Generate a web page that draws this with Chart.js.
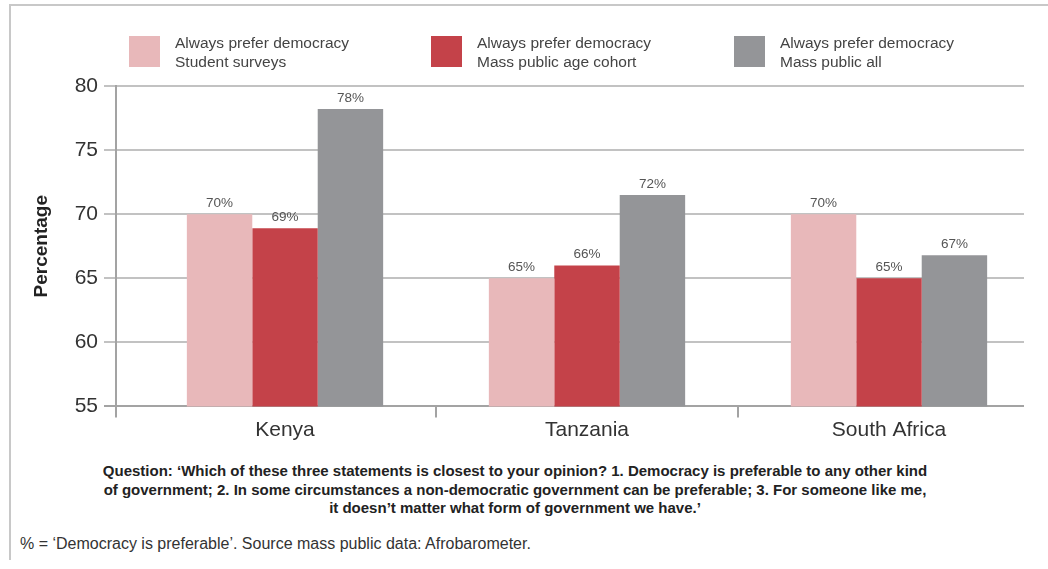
<!DOCTYPE html>
<html>
<head>
<meta charset="utf-8">
<script src="https://cdn.jsdelivr.net/npm/chart.js@4"></script>
<style>
    body { margin: 0; width: 1048px; height: 569px; background: #fff; position: relative; overflow: hidden;
           font-family: "Liberation Sans", Arial, sans-serif; }
    #frame { position: absolute; left: 9px; top: 4px; width: 1039px; height: 554px;
             border-top: 2px solid #c8c8c8; border-left: 2px solid #c8c8c8; }
    #chart-wrap { position: absolute; left: 0; top: 0; width: 1048px; height: 455px; }
    .legend-item { position: absolute; top: 33px; }
    .legend-box { position: absolute; left: 0; top: 3px; width: 31px; height: 31px; }
    .legend-text { position: absolute; left: 46px; top: 0; white-space: nowrap; font-size: 15.5px;
                   line-height: 19px; color: #444; }
    #question { position: absolute; left: 15px; width: 1000px; top: 462px; text-align: center;
                font-weight: bold; font-size: 15px; line-height: 18.5px; color: #222; }
    #note { position: absolute; left: 20px; top: 534px; font-size: 16px; line-height: 20px; color: #333;
            white-space: nowrap; }
</style>
</head>
<body>
<div id="frame"></div>
<div id="chart-wrap"><canvas id="democracy-chart"></canvas></div>
<div id="legend"></div>
<div id="question">Question: ‘Which of these three statements is closest to your opinion? 1. Democracy is preferable to any other kind<br>of government; 2. In some circumstances a non-democratic government can be preferable; 3. For someone like me,<br>it doesn’t matter what form of government we have.’</div>
<div id="note">% = ‘Democracy is preferable’. Source mass public data: Afrobarometer.</div>
<script>
// Données du graphique
const categories = ['Kenya', 'Tanzania', 'South Africa'];
const studentSurveys = [70, 65, 70];
const ageCohort = [68.9, 66, 65];
const massPublicAll = [78.2, 71.5, 66.8];
const seriesNames = [
    ['Always prefer democracy', 'Student surveys'],
    ['Always prefer democracy', 'Mass public age cohort'],
    ['Always prefer democracy', 'Mass public all']
];
const seriesColors = ['#e8b8ba', '#c44249', '#949598'];
const yTicks = [55, 60, 65, 70, 75, 80];

// Lignes de grille, axe vertical et séparateurs de catégories
const gridPlugin = {
    id: 'customGrid',
    beforeDatasetsDraw(chart, args, opts) {
        const ctx = chart.ctx;
        const y = chart.scales.y;
        const x = chart.scales.x;
        const bottom = chart.chartArea.bottom;
        ctx.save();
        y.ticks.forEach(t => {
            const py = Math.round(y.getPixelForValue(t.value));
            ctx.strokeStyle = t.value === yTicks[0] ? '#a3a3a3' : '#c2c2c2';
            ctx.lineWidth = 2;
            ctx.beginPath();
            ctx.moveTo(opts.gridLeft, py);
            ctx.lineTo(opts.gridRight, py);
            ctx.stroke();
        });
        // axe vertical
        ctx.strokeStyle = '#a3a3a3';
        ctx.beginPath();
        ctx.moveTo(opts.axisX, y.getPixelForValue(yTicks[yTicks.length - 1]) - 1);
        ctx.lineTo(opts.axisX, bottom + opts.tickLen);
        ctx.stroke();
        // séparateurs
        for (let i = 1; i < categories.length; i++) {
            const px = Math.round((x.getPixelForValue(i - 1) + x.getPixelForValue(i)) / 2);
            ctx.beginPath();
            ctx.moveTo(px, bottom);
            ctx.lineTo(px, bottom + opts.tickLen);
            ctx.stroke();
        }
        ctx.restore();
    },
    afterDatasetsDraw(chart) {
        // Étiquettes de valeurs au-dessus des barres
        const ctx = chart.ctx;
        ctx.save();
        ctx.font = '13.5px "Liberation Sans", Arial, sans-serif';
        ctx.fillStyle = '#555';
        ctx.textAlign = 'center';
        ctx.textBaseline = 'alphabetic';
        chart.data.datasets.forEach((ds, di) => {
            chart.getDatasetMeta(di).data.forEach((bar, i) => {
                ctx.fillText(Math.round(ds.data[i]) + '%', bar.x, bar.y - 7);
            });
        });
        ctx.restore();
    }
};

/**
 * Construit la légende HTML
 */
function buildLegend() {
    const legend = document.getElementById('legend');
    const lefts = [129, 431, 734];
    seriesNames.forEach((name, i) => {
        const item = document.createElement('div');
        item.className = 'legend-item';
        item.style.left = lefts[i] + 'px';
        item.innerHTML = `
            <div class="legend-box" style="background:${seriesColors[i]}"></div>
            <div class="legend-text">${name[0]}<br>${name[1]}</div>
        `;
        legend.appendChild(item);
    });
}

buildLegend();

const ctx = document.getElementById('democracy-chart').getContext('2d');
new Chart(ctx, {
    type: 'bar',
    data: {
        labels: categories,
        datasets: [studentSurveys, ageCohort, massPublicAll].map((values, i) => ({
            label: seriesNames[i].join(' '),
            data: values,
            backgroundColor: seriesColors[i],
            borderWidth: 0,
            barPercentage: 1.0,
            categoryPercentage: 0.65
        }))
    },
    options: {
        responsive: true,
        maintainAspectRatio: false,
        animation: false,
        layout: {
            padding: { top: 86, right: 8, bottom: 0, left: 0 }
        },
        plugins: {
            legend: { display: false },
            tooltip: { enabled: false },
            customGrid: { gridLeft: 104, gridRight: 1024, axisX: 116, tickLen: 11 }
        },
        scales: {
            x: {
                grid: { display: false, drawTicks: false },
                border: { display: false },
                ticks: {
                    padding: 11,
                    color: '#333',
                    font: { family: '"Liberation Sans", Arial, sans-serif', size: 21 }
                },
                afterFit(scale) { scale.height = 44; }
            },
            y: {
                min: yTicks[0],
                max: yTicks[yTicks.length - 1],
                afterBuildTicks(scale) {
                    scale.ticks = yTicks.map(v => ({ value: v }));
                },
                grid: { display: false, drawTicks: false },
                border: { display: false },
                ticks: {
                    padding: 36,
                    color: '#333',
                    font: { family: '"Liberation Sans", Arial, sans-serif', size: 21 }
                },
                title: {
                    display: true,
                    text: 'Percentage',
                    color: '#222',
                    font: { family: '"Liberation Sans", Arial, sans-serif', size: 19, weight: 'bold' },
                    padding: { top: 30, bottom: 0 }
                },
                afterFit(scale) { scale.width = 134; }
            }
        }
    },
    plugins: [gridPlugin]
});
</script>
</body>
</html>
